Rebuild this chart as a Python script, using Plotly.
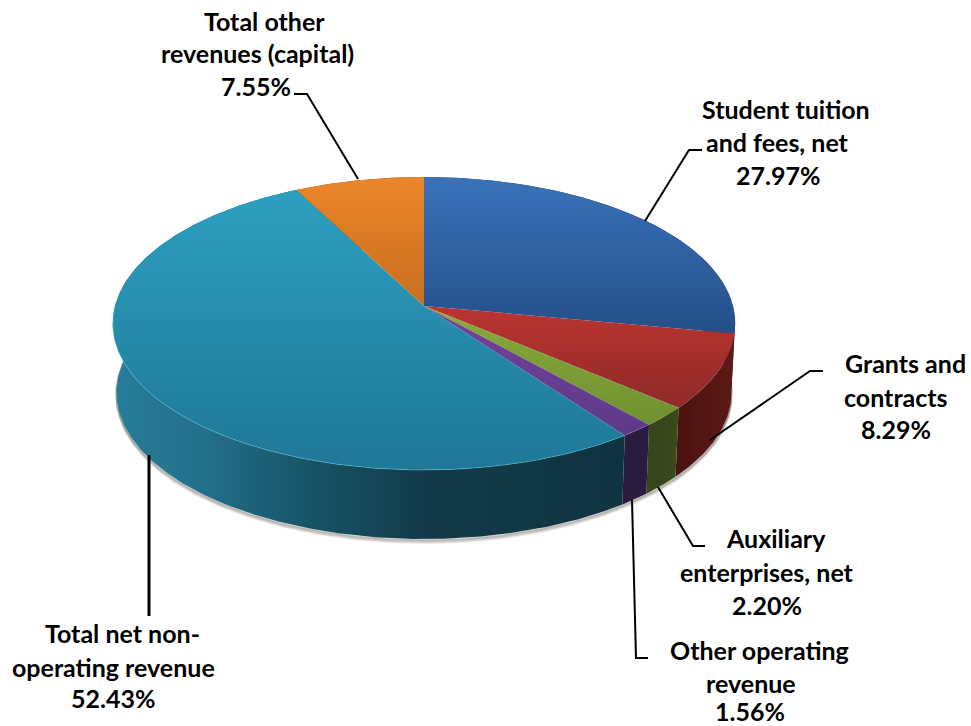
import numpy as np
import plotly.graph_objects as go

categories = ["Student tuition and fees, net", "Grants and contracts", "Auxiliary enterprises, net",
              "Other operating revenue", "Total net non-operating revenue", "Total other revenues (capital)"]
shares = [27.97, 8.29, 2.20, 1.56, 52.43, 7.55]
top_colors = [("#3a72ba", "#244f88"), ("#bb3430", "#8e2a28"), ("#8bab3c", "#6f9030"),
              ("#70439c", "#5f3a88"), ("#2d9fc0", "#1f7796"), ("#ec852a", "#c8701d")]
side_colors = [("#1d3557", "#1d3557"), ("#4a1210", "#5e1a16"), ("#34431a", "#3a4a1c"),
               ("#2a1a3e", "#2c1c42"), ("#277d9a", "#0f3440"), ("#7a4512", "#7a4512")]
label_lines = [["Student tuition", "and fees, net", "27.97%"], ["Grants and", "contracts", "8.29%"],
               ["Auxiliary", "enterprises, net", "2.20%"], ["Other operating", "revenue", "1.56%"],
               ["Total net non-", "operating revenue", "52.43%"], ["Total other", "revenues (capital)", "7.55%"]]
label_x = [[786, 777.5, 777.5], [905, 896, 896], [775.5, 767, 767], [759.5, 750.5, 750], [122, 113, 113],
           [264.5, 257.5, 255.5]]
label_y = [[109, 142, 175], [363, 397, 429], [538, 572, 605], [650, 683, 711], [633, 667, 698], [21, 53, 86]]
leaders = [[(645, 221), (689, 150), (702, 150)], [(710, 440), (810, 371), (823, 371)],
           [(658, 487), (693, 546), (705, 546)], [(632, 500), (636, 658), (648, 658)],
           [(149, 455), (149, 616)], [(358, 179), (307, 94), (294, 94)]]
leader_w = [2, 2, 2, 2, 3, 2]

CX, CY, A, B, K, DEPTH, BOTTOM_SCALE = 424.0, 306.0, 309.0, 144.4, 0.1195, 69.0, 0.988


def rim(deg, dy=0.0, scale=1.0):
    t = np.radians(deg)
    u, v = np.sin(t), -np.cos(t)
    w = 1 - K * v
    return CX + scale * A * u / w, CY + dy + B * v / w


edges = np.cumsum([0] + shares) * 3.6
fig = go.Figure()

# soft shadow under the disc
t_front = np.linspace(80, 285, 200)
for off, alpha in [(4, 0.10), (3, 0.16), (2, 0.22), (1, 0.28)]:
    sx, sy = rim(t_front, DEPTH + off, BOTTOM_SCALE)
    fig.add_trace(go.Scatter(x=sx, y=sy, mode="lines", line=dict(color=f"rgba(90,80,70,{alpha})", width=2),
                             hoverinfo="skip", showlegend=False))

# sides, then top faces
for i, name in enumerate(categories):
    ang = np.linspace(edges[i], edges[i + 1], max(int(shares[i] * 6), 8))
    tx, ty = rim(ang)
    bx, by = rim(ang[::-1], DEPTH, BOTTOM_SCALE)
    px, py = np.r_[tx, bx, tx[0]], np.r_[ty, by, ty[0]]
    c0, c1 = side_colors[i]
    stops = [[0, c0], [1, c1]]
    if i == 4:
        stops = [[0, c0], [0.18, "#22708a"], [0.38, "#175468"], [0.6, "#123c49"], [1, c1]]
    fig.add_trace(go.Scatter(x=px, y=py, mode="lines", line=dict(width=0), fill="toself",
                             fillgradient=dict(type="horizontal", colorscale=stops, start=px.min(), stop=px.max()),
                             name=name, hoverinfo="skip", showlegend=False))

for i, name in enumerate(categories):
    ang = np.linspace(edges[i], edges[i + 1], max(int(shares[i] * 6), 8))
    tx, ty = rim(ang)
    px, py = np.r_[CX, tx, CX], np.r_[CY, ty, CY]
    fig.add_trace(go.Scatter(x=px, y=py, mode="lines", line=dict(width=0), fill="toself",
                             fillgradient=dict(type="vertical",
                                               colorscale=[[0, top_colors[i][0]], [1, top_colors[i][1]]],
                                               start=py.min(), stop=py.max()),
                             name=name, text=f"{name}: {shares[i]:.2f}%", hoverinfo="text", hoveron="fills",
                             showlegend=False))

# pale rim highlight on the front of the large slice
hx, hy = rim(np.linspace(edges[4], 270, 120))
fig.add_trace(go.Scatter(x=hx, y=hy, mode="lines", line=dict(color="rgba(90,190,215,0.55)", width=1),
                         hoverinfo="skip", showlegend=False))

for pts, w in zip(leaders, leader_w):
    fig.add_trace(go.Scatter(x=[p[0] for p in pts], y=[p[1] for p in pts], mode="lines",
                             line=dict(color="#000000", width=w), hoverinfo="skip", showlegend=False))

annotations = []
for lines, xs, ys in zip(label_lines, label_x, label_y):
    for line, x, y in zip(lines, xs, ys):
        annotations.append(dict(x=x, y=y, xref="x", yref="y", text=f"<b>{line}</b>", showarrow=False,
                                xanchor="center", yanchor="middle",
                                font=dict(family="Lato", size=25, color="#000000")))

fig.update_layout(width=971, height=726, margin=dict(l=0, r=0, t=0, b=0), paper_bgcolor="white",
                  plot_bgcolor="white", showlegend=False, annotations=annotations,
                  xaxis=dict(range=[0, 971], visible=False, fixedrange=True),
                  yaxis=dict(range=[726, 0], visible=False, fixedrange=True))
fig.write_html("out.html", config=dict(displayModeBar=False),
               post_script="document.body.style.margin='0';document.documentElement.style.overflow='hidden';")
